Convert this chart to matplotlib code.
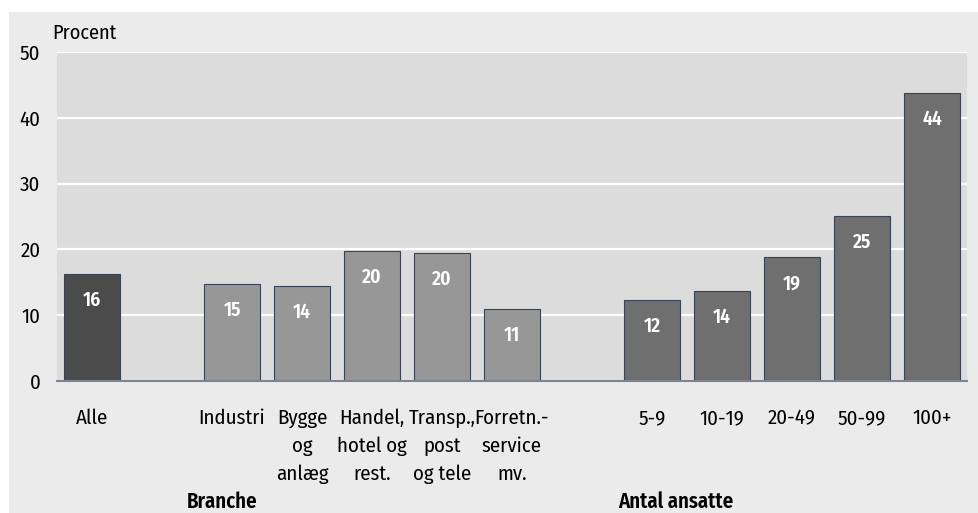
import matplotlib
matplotlib.use("Agg")
import matplotlib.pyplot as plt
from matplotlib.patches import Rectangle
from matplotlib import font_manager as fm

categories = ["Alle", "Industri", "Bygge\nog\nanlæg", "Handel,\nhotel og\nrest.",
              "Transp.,\npost\nog tele", "Forretn.-\nservice\nmv.",
              "5-9", "10-19", "20-49", "50-99", "100+"]
positions = [0, 2, 3, 4, 5, 6, 8, 9, 10, 11, 12]
values = [16.2, 14.7, 14.5, 19.7, 19.5, 10.9, 12.3, 13.7, 18.8, 25.1, 43.7]
labels = ["16", "15", "14", "20", "20", "11", "12", "14", "19", "25", "44"]
groups = ["all", "br", "br", "br", "br", "br", "size", "size", "size", "size", "size"]
group_colors = {"all": "#4b4b4b", "br": "#979797", "size": "#6f6f6f"}
yticks = [0, 10, 20, 30, 40, 50]

available = {f.name for f in fm.fontManager.ttflist}
candidates = ['Fira Sans Condensed', 'Roboto Condensed', 'PT Sans Narrow', 'Asap Condensed',
              'Encode Sans Condensed', 'Archivo Narrow', 'IBM Plex Sans Condensed']
primary = next((c for c in candidates if c in available), 'Open Sans')
plt.rcParams['font.family'] = [primary, 'DejaVu Sans']

W, H = 979, 513
fig = plt.figure(figsize=(W / 100, H / 100), dpi=100)
fig.patch.set_facecolor("white")
bg = Rectangle((9 / W, 0), 1 - 9 / W, 1 - 12 / H, transform=fig.transFigure,
               facecolor="#ebebeb", edgecolor="none", zorder=-10)
fig.patches.append(bg)

ax = fig.add_axes([57 / W, 1 - 381 / H, (967 - 57) / W, (381 - 52) / H])
ax.set_zorder(1)
ax.set_facecolor("#dcdcdc")
ax.set_xlim(-0.5, 12.5)
ax.set_ylim(0, 50)

colors = [group_colors[g] for g in groups]
ax.bar(positions, values, width=0.786, color=colors, edgecolor="#38435a", linewidth=0.8, zorder=3)
for p, v, l in zip(positions, values, labels):
    ax.text(p, v - 4.0, l, ha="center", va="center", color="white", fontsize=14,
            fontweight="semibold", zorder=4)

ax.set_yticks(yticks)
ax.yaxis.grid(True, color="white", linewidth=1.6, zorder=1)
ax.set_axisbelow(True)
for s in ["top", "right", "left"]:
    ax.spines[s].set_visible(False)
ax.spines["bottom"].set_color("#7a8494")
ax.spines["bottom"].set_linewidth(1.5)
ax.spines["bottom"].set_zorder(5)
ax.tick_params(axis="both", length=0, labelsize=15)
ax.tick_params(axis="y", pad=12)
ax.set_xticks(positions)
ax.set_xticklabels(categories, linespacing=1.55)
ax.tick_params(axis="x", pad=20)

fig.text(52 / W, 1 - 33 / H, "Procent", fontsize=14.5, ha="left", va="center")
fig.text(187 / W, 1 - 502 / H, "Branche", fontsize=15, fontweight="semibold", ha="left", va="center")
fig.text(618 / W, 1 - 502 / H, "Antal ansatte", fontsize=15, fontweight="semibold", ha="left", va="center")

fig.savefig("out.png", dpi=100, facecolor=fig.get_facecolor())
